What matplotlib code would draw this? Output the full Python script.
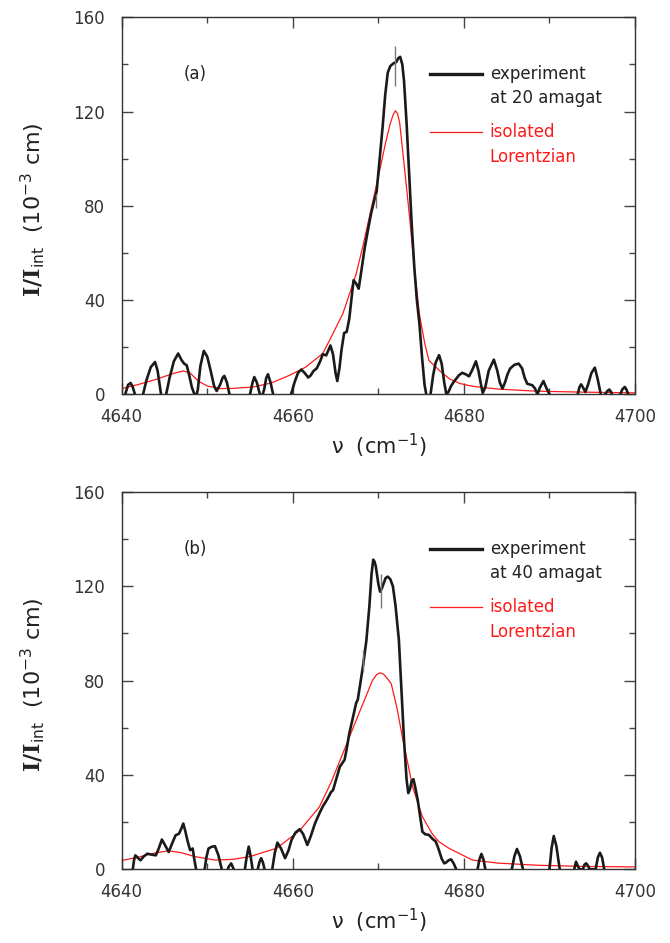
import matplotlib
matplotlib.use("Agg")
import matplotlib.pyplot as plt
from matplotlib.ticker import MultipleLocator

plt.rcParams['font.family'] = ['DejaVu Sans']
plt.rcParams['mathtext.fontset'] = 'custom'
plt.rcParams['mathtext.rm'] = 'DejaVu Sans'
plt.rcParams['mathtext.bf'] = 'DejaVu Serif:bold'

# panel (a): 20 amagat, experiment (black)
exp_a = [
    (4640.0, -6), (4640.5, 1), (4640.75, 4), (4641.05, 4.8), (4641.3, 3), (4641.55, 0),
    (4642.0, -5), (4642.5, 0), (4642.9, 6), (4643.4, 11.5), (4643.9, 13.7), (4644.2, 10),
    (4644.6, 0), (4644.9, -3), (4645.2, 0), (4645.6, 7), (4646.1, 14), (4646.6, 17.3),
    (4647.0, 14.5), (4647.3, 13.0), (4647.6, 12.3), (4647.9, 8), (4648.2, 3), (4648.5, 0),
    (4648.7, -1), (4648.9, 2), (4649.2, 12), (4649.6, 18.4), (4650.0, 16), (4650.4, 10),
    (4650.8, 3.5), (4651.1, 1.4), (4651.5, 4), (4651.8, 7), (4652.0, 7.8), (4652.3, 5),
    (4652.6, 0), (4653.8, -6), (4655.0, 0), (4655.3, 5), (4655.5, 7.3), (4655.8, 5),
    (4656.15, 0), (4656.4, -1), (4656.65, 2), (4656.9, 7), (4657.1, 8.5), (4657.4, 5),
    (4657.7, 0), (4658.7, -6), (4659.8, 0), (4660.2, 5), (4660.6, 9), (4661.0, 10.5),
    (4661.4, 9), (4661.8, 7.1), (4662.1, 8), (4662.4, 9.8), (4662.8, 11), (4663.2, 14),
    (4663.5, 17.0), (4663.9, 16.5), (4664.2, 19), (4664.4, 20.7), (4664.7, 17), (4665.0, 9),
    (4665.2, 5.6), (4665.45, 11), (4665.7, 19), (4666.0, 26), (4666.3, 26.5), (4666.6, 32),
    (4666.9, 42), (4667.1, 48.4), (4667.4, 47), (4667.7, 44.8), (4668.0, 52), (4668.4, 62),
    (4668.8, 70), (4669.15, 76.7), (4669.5, 82), (4669.8, 86), (4670.1, 98), (4670.5, 113.5),
    (4670.8, 127), (4671.1, 136.5), (4671.4, 139.3), (4671.8, 140.5), (4672.1, 141),
    (4672.3, 142.5), (4672.55, 143.2), (4672.8, 140), (4673.0, 133), (4673.3, 115),
    (4673.6, 93.7), (4673.9, 72), (4674.2, 54), (4674.5, 40), (4674.8, 30), (4675.1, 16),
    (4675.4, 4), (4675.6, 0), (4675.85, -3), (4676.1, 0), (4676.4, 8), (4676.7, 13.5),
    (4677.1, 16.6), (4677.4, 13), (4677.7, 5), (4677.95, 0), (4678.2, 1), (4678.5, 3.5),
    (4678.8, 5.2), (4679.4, 8), (4679.8, 9.1), (4680.2, 8.5), (4680.6, 7.6), (4681.0, 10.5),
    (4681.4, 14.0), (4681.7, 10), (4682.0, 4), (4682.2, 0.5), (4682.5, 3), (4682.9, 10),
    (4683.5, 14.7), (4683.9, 10), (4684.2, 5), (4684.5, 2.4), (4684.8, 5), (4685.1, 8.5),
    (4685.4, 10.9), (4685.9, 12.5), (4686.4, 13), (4686.8, 11), (4687.1, 7), (4687.4, 4.5),
    (4688.0, 3.8), (4688.3, 2.5), (4688.6, 0), (4688.9, 3), (4689.3, 5.6), (4689.6, 3),
    (4690.0, 0), (4692.0, -6), (4693.3, 0), (4693.5, 3), (4693.7, 4.2), (4693.9, 3),
    (4694.2, 1), (4694.5, 4), (4694.9, 9), (4695.3, 11.3), (4695.6, 7), (4696.0, 0),
    (4696.3, -1), (4696.8, 1.5), (4697.0, 2), (4697.2, 1), (4697.5, -2), (4698.3, 0),
    (4698.5, 2), (4698.8, 3.1), (4699.0, 2), (4699.2, 0), (4699.6, -3),
]
exp_a_x = [p[0] for p in exp_a]
exp_a_y = [p[1] for p in exp_a]

# panel (a): isolated Lorentzian (red)
lor_a_x = [4640.0, 4642.0, 4644.0, 4646.0, 4647.2, 4648.0, 4649.0, 4650.0, 4651.5, 4653.0,
           4655.4, 4657.5, 4659.65, 4661.5, 4663.5, 4664.3, 4665.85, 4667.4, 4668.2, 4669.0,
           4670.1, 4670.8, 4671.4, 4671.75, 4672.0, 4672.25, 4672.5, 4673.0, 4673.6, 4674.2,
           4674.8, 4675.4, 4675.9, 4676.6, 4677.1, 4678.3, 4679.5, 4681.0, 4684.0, 4688.6,
           4694.0, 4700.0]
lor_a_y = [2.4, 4.2, 6.3, 8.8, 9.9, 9.0, 5.5, 3.5, 2.4, 2.5,
           3.1, 4.8, 8.1, 11.5, 17.3, 22.9, 34.2, 51, 63, 76,
           94, 106, 115, 118.8, 120.3, 119, 115, 98, 77, 54,
           34, 22, 14.4, 12, 10.2, 6.6, 4.6, 3.4, 2.2, 1.3,
           0.9, 0.6]

# panel (b): 40 amagat, experiment (black)
exp_b = [
    (4641.0, -4), (4641.3, 0), (4641.45, 4), (4641.6, 5.9), (4641.9, 4.8), (4642.2, 3.8),
    (4642.6, 5.5), (4643.0, 6.6), (4643.5, 6.2), (4644.0, 5.9), (4644.35, 9), (4644.7, 12.6),
    (4645.1, 10), (4645.5, 7.3), (4645.9, 11), (4646.3, 14.4), (4646.7, 15.1), (4647.0, 17.5),
    (4647.2, 19.4), (4647.45, 16), (4647.7, 12), (4648.0, 8.1), (4648.3, 8.8), (4648.5, 4),
    (4648.7, 0), (4649.2, -5), (4649.7, 0), (4649.9, 5), (4650.15, 8.8), (4650.5, 9.5),
    (4650.9, 9.8), (4651.3, 6), (4651.7, 0), (4652.2, -2), (4652.5, 1), (4652.8, 2.5),
    (4653.1, 0), (4653.8, -5), (4654.4, 0), (4654.6, 5), (4654.85, 9.6), (4655.05, 6),
    (4655.3, 0), (4655.6, -2), (4655.9, 0), (4656.1, 3), (4656.3, 4.7), (4656.5, 3),
    (4656.7, 0), (4657.1, -3), (4657.6, 0), (4657.9, 7), (4658.2, 11.3), (4658.6, 9),
    (4659.1, 4.7), (4659.5, 8), (4659.85, 12.4), (4660.3, 15.5), (4660.8, 17.0), (4661.2, 15),
    (4661.7, 10.3), (4662.1, 14), (4662.6, 19.5), (4663.1, 23.6), (4663.5, 26.6), (4664.0, 29.5),
    (4664.5, 32.9), (4664.7, 33.5), (4665.1, 38.5), (4665.5, 43.5), (4666.05, 46.4), (4666.3, 51),
    (4666.6, 57.5), (4667.0, 64), (4667.4, 70.4), (4667.6, 72), (4667.9, 79), (4668.2, 86),
    (4668.6, 97), (4668.95, 111.5), (4669.2, 125), (4669.4, 131.3), (4669.55, 130.5),
    (4669.7, 128.5), (4670.0, 121), (4670.2, 117.7), (4670.4, 119), (4670.6, 121),
    (4670.85, 123.5), (4671.1, 124.1), (4671.4, 123), (4671.7, 120), (4672.0, 112),
    (4672.2, 104.4), (4672.4, 97.2), (4672.7, 76), (4673.0, 54.8), (4673.3, 38), (4673.5, 32.3),
    (4673.7, 34), (4673.9, 37.5), (4674.1, 38.2), (4674.3, 35), (4674.6, 29.4), (4674.9, 22),
    (4675.15, 15.9), (4675.5, 14.8), (4675.9, 14.6), (4676.3, 13), (4676.7, 11.8), (4677.0, 9),
    (4677.4, 4.5), (4677.7, 2.5), (4677.9, 2.8), (4678.2, 3.8), (4678.5, 4.2), (4678.8, 2.5),
    (4679.1, 0), (4680.0, -5), (4681.6, 0), (4681.8, 4), (4682.05, 6.5), (4682.3, 4),
    (4682.5, 0), (4684.0, -5), (4685.6, 0), (4685.9, 5.5), (4686.2, 8.6), (4686.55, 5.5),
    (4686.9, 0), (4688.5, -5), (4690.0, 0), (4690.25, 9), (4690.5, 14.1), (4690.8, 10),
    (4691.2, 0), (4692.2, -5), (4692.9, 0), (4693.1, 3.2), (4693.3, 1.5), (4693.5, 0),
    (4693.9, 0), (4694.1, 2), (4694.3, 2.5), (4694.5, 1.5), (4694.7, 0), (4695.4, 0),
    (4695.65, 5), (4695.9, 7.0), (4696.15, 5), (4696.4, 0), (4697.0, -4), (4700.0, -4),
]
exp_b_x = [p[0] for p in exp_b]
exp_b_y = [p[1] for p in exp_b]

# panel (b): isolated Lorentzian (red)
lor_b_x = [4640.0, 4642.0, 4644.0, 4645.5, 4647.0, 4648.5, 4650.9, 4653.0, 4655.0, 4658.1,
           4660.8, 4663.1, 4664.5, 4665.5, 4666.5, 4667.5, 4668.4, 4669.3, 4669.8, 4670.2,
           4670.6, 4670.9, 4671.5, 4672.2, 4672.8, 4674.0, 4675.15, 4676.3, 4677.1, 4678.3,
           4681.0, 4684.0, 4688.6, 4694.0, 4700.0]
lor_b_y = [3.7, 5.2, 7.0, 7.8, 7.0, 5.4, 3.9, 4.2, 5.4, 8.9,
           16.4, 26.4, 37, 46, 55, 64, 72, 80, 82.6, 83.3,
           82.8, 81.5, 78.8, 68, 56.2, 35, 22.3, 15, 11.6, 8.8,
           3.9, 2.6, 1.7, 1.2, 1.0]

# thin grey marks left on the original plot
marks_a_x = [4672.0, 4669.7]
marks_a_lo = [131, 79]
marks_a_hi = [148, 85]
marks_b_x = [4670.3, 4668.2]
marks_b_lo = [111, 84]
marks_b_hi = [125, 93]

tags = ['(a)', '(b)']
densities = ['at 20 amagat', 'at 40 amagat']


def panel(ax, ex, ey, lx, ly, mx, mlo, mhi, tag, dens):
    ax.plot(lx, ly, color='#ff1a1a', lw=0.9, zorder=2)
    ax.plot(ex, ey, color='#1a1a1a', lw=1.9, zorder=3,
            solid_joinstyle='round', solid_capstyle='round')
    ax.vlines(mx, mlo, mhi, color='#777777', lw=1.0, zorder=4)
    ax.set_xlim(4640, 4700)
    ax.set_ylim(0, 160)
    ax.xaxis.set_major_locator(MultipleLocator(20))
    ax.xaxis.set_minor_locator(MultipleLocator(10))
    ax.yaxis.set_major_locator(MultipleLocator(40))
    ax.yaxis.set_minor_locator(MultipleLocator(20))
    ax.tick_params(which='both', direction='in', top=True, right=True,
                   color='#444444', labelcolor='#333333', labelsize=12)
    ax.tick_params(which='major', length=8, width=1.0)
    ax.tick_params(which='minor', length=4.5, width=1.0)
    ax.tick_params(axis='x', pad=10)
    ax.tick_params(axis='y', pad=12)
    for s in ax.spines.values():
        s.set_color('#333333')
        s.set_linewidth(1.0)
    ax.set_xlabel('ν  (cm$^{-1}$)', fontsize=15, color='#222222', labelpad=4)
    ax.set_ylabel(r'$\mathbf{I/I}_{\mathrm{int}}$  (10$^{-3}$ cm)', fontsize=16,
                  color='#222222')
    ax.yaxis.set_label_coords(-0.145, 0.49)
    ax.text(0.12, 0.85, tag, transform=ax.transAxes, fontsize=12,
            color='#222222', va='center')
    # hand-made legend
    ax.plot([0.600, 0.702], [0.849, 0.849], transform=ax.transAxes,
            color='#1a1a1a', lw=2.4)
    ax.text(0.717, 0.849, 'experiment', transform=ax.transAxes, fontsize=12,
            color='#222222', va='center')
    ax.text(0.717, 0.786, dens, transform=ax.transAxes, fontsize=12,
            color='#222222', va='center')
    ax.plot([0.600, 0.702], [0.696, 0.696], transform=ax.transAxes,
            color='#ff1a1a', lw=0.9)
    ax.text(0.717, 0.696, 'isolated', transform=ax.transAxes, fontsize=12,
            color='#ff1a1a', va='center')
    ax.text(0.717, 0.629, 'Lorentzian', transform=ax.transAxes, fontsize=12,
            color='#ff1a1a', va='center')


fig = plt.figure(figsize=(6.7, 9.43), dpi=100)
ax1 = fig.add_axes([0.1816, 0.5819, 0.7662, 0.3998])
ax2 = fig.add_axes([0.1816, 0.0782, 0.7662, 0.4001])

panel(ax1, exp_a_x, exp_a_y, lor_a_x, lor_a_y, marks_a_x, marks_a_lo, marks_a_hi,
      tags[0], densities[0])
panel(ax2, exp_b_x, exp_b_y, lor_b_x, lor_b_y, marks_b_x, marks_b_lo, marks_b_hi,
      tags[1], densities[1])

fig.savefig('out.png', dpi=100)
